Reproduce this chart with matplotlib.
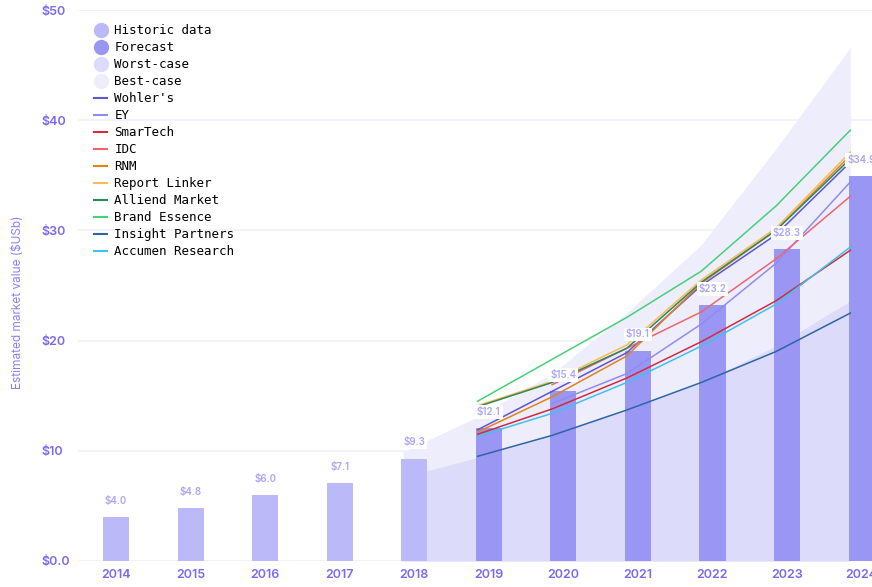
import numpy as np
import matplotlib
matplotlib.use('Agg')
import matplotlib.pyplot as plt
from matplotlib.lines import Line2D

# bars
hist_years = [2014, 2015, 2016, 2017, 2018]
hist_vals = [4.0, 4.8, 6.0, 7.1, 9.3]
fc_years = [2019, 2020, 2021, 2022, 2023, 2024]
fc_vals = [12.1, 15.4, 19.1, 23.2, 28.3, 34.9]

# scenario band
band_years = [2018, 2019, 2020, 2021, 2022, 2023, 2024]
worst = [7.6, 9.4, 11.5, 13.7, 16.2, 19.5, 23.6]
best = [9.9, 13.1, 17.0, 22.5, 28.7, 37.4, 46.6]

# analyst forecasts (2019-2024)
line_years = [2019, 2020, 2021, 2022, 2023, 2024]
wohlers = [11.9, 15.4, 18.9, 25.0, 29.6, 36.2]
ey = [np.nan, 14.3, 17.0, 21.5, 27.0, 34.4]
smartech = [11.5, 13.8, 16.6, 19.9, 23.6, 28.2]
idc = [np.nan, 16.0, 19.3, 22.6, 27.4, 33.1]
rnm = [11.7, 14.9, 18.6, 25.2, 30.0, 36.8]
report_linker = [14.1, 16.3, 19.6, 25.5, 30.2, 37.1]
alliend = [14.0, 16.2, 19.3, 25.3, 30.0, 36.5]
brand_essence = [14.5, 18.3, 22.1, 26.3, 32.2, 39.1]
insight = [9.5, 11.4, 13.7, 16.2, 19.0, 22.5]
accumen = [11.3, 13.4, 16.2, 19.5, 23.3, 28.5]

series = [
    ("Wohler's", wohlers, '#5a55d9'),
    ('EY', ey, '#8f8cf2'),
    ('SmarTech', smartech, '#d32a3e'),
    ('IDC', idc, '#f0646f'),
    ('RNM', rnm, '#e5801c'),
    ('Report Linker', report_linker, '#f8bb58'),
    ('Alliend Market', alliend, '#2b8a57'),
    ('Brand Essence', brand_essence, '#45d17a'),
    ('Insight Partners', insight, '#2c66a6'),
    ('Accumen Research', accumen, '#3fc1f2'),
]

C_HIST = '#bbb9f8'
C_FC = '#9996f4'
C_WORST = '#dcdbfa'
C_BEST = '#eeedfc'
C_TICK = '#7a69f3'
C_LBL = '#aaa6f6'

W = 0.35
OFF = 0.15

fig = plt.figure(figsize=(8.72, 5.87), dpi=100)
ax = fig.add_axes([78 / 872, 26 / 587, 794 / 872, 551 / 587])

bx = np.array(band_years) - OFF
ax.fill_between(bx, 0, best, color=C_BEST, lw=0, zorder=1)
ax.fill_between(bx, 0, worst, color=C_WORST, lw=0, zorder=1.1)

ax.bar(hist_years, hist_vals, width=W, color=C_HIST, zorder=2)
ax.bar(fc_years, fc_vals, width=W, color=C_FC, zorder=2)

lx = np.array(line_years) - OFF
for name, vals, col in series:
    ax.plot(lx, vals, color=col, lw=1.1, zorder=3)

for x, v in zip(hist_years + fc_years, hist_vals + fc_vals):
    ax.text(x, v + 1.0, f'${v:.1f}', ha='center', va='bottom', fontsize=7,
            color=C_LBL, family='Inter', fontweight='semibold', zorder=4,
            bbox=dict(boxstyle='square,pad=0.2', fc='white', ec='none'))

ax.set_xlim(2013.49, 2024.14)
ax.set_ylim(0, 50)
ax.set_yticks([0, 10, 20, 30, 40, 50])
ax.set_yticklabels(['$0.0', '$10', '$20', '$30', '$40', '$50'])
ax.set_xticks(list(range(2014, 2025)))
ax.set_xticklabels([str(y) for y in range(2014, 2025)])
for lab in ax.get_xticklabels() + ax.get_yticklabels():
    lab.set_family('Inter')
    lab.set_fontweight('semibold')
    lab.set_fontsize(9)
    lab.set_color(C_TICK)
ax.tick_params(length=0, pad=6)
ax.tick_params(axis='y', pad=26)
for lab in ax.get_yticklabels():
    lab.set_ha('left')
ax.grid(axis='y', color='#f1f0fc', lw=1.2, zorder=0)
ax.set_axisbelow(True)
for s in ax.spines.values():
    s.set_visible(False)

fig.text(18 / 872, 1 - 302 / 587, 'Estimated market value ($USb)', rotation=90,
         ha='center', va='center', fontsize=8.5, color='#8a80f5', family='Inter')

handles = [
    Line2D([], [], ls='none', marker='o', ms=10, color=C_HIST),
    Line2D([], [], ls='none', marker='o', ms=10, color=C_FC),
    Line2D([], [], ls='none', marker='o', ms=10, color=C_WORST),
    Line2D([], [], ls='none', marker='o', ms=10, color=C_BEST),
]
labels = ['Historic data', 'Forecast', 'Worst-case', 'Best-case']
for name, vals, col in series:
    handles.append(Line2D([], [], color=col, lw=1.5))
    labels.append(name)
fig.legend(handles, labels, loc='upper left', bbox_to_anchor=(88 / 872, 1 - 18 / 587),
           frameon=False, prop={'family': 'DejaVu Sans Mono', 'size': 9},
           handlelength=1.0, handletextpad=0.6, labelspacing=0.32, borderpad=0)

fig.savefig('out.png', dpi=100)
